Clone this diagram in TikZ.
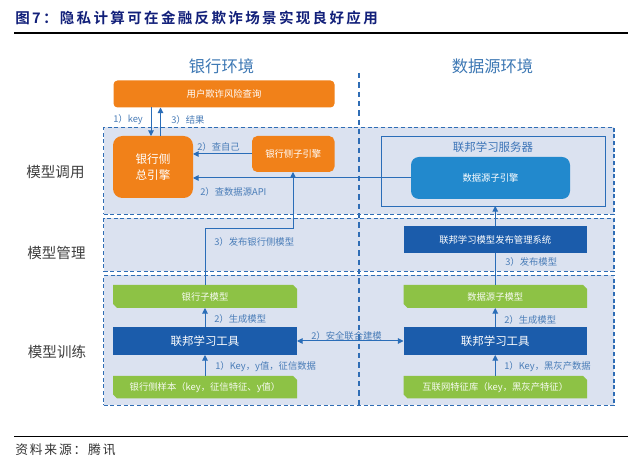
\documentclass[tikz,border=0pt]{standalone}
\usepackage{fontspec}
\setmainfont{Noto Sans CJK SC}
\newfontfamily\titlefont[LetterSpace=16]{Noto Sans CJK SC Bold}
\newfontfamily\srcfont[LetterSpace=14]{Noto Sans CJK SC}
\usetikzlibrary{arrows.meta,shapes.misc}
\definecolor{panelfill}{HTML}{DBE2F0}
\definecolor{dashblue}{HTML}{2F6DB5}
\definecolor{linkblue}{HTML}{2A6DB8}
\definecolor{labelblue}{HTML}{4A7DB8}
\definecolor{headblue}{HTML}{3D78B4}
\definecolor{orangebox}{HTML}{F18119}
\definecolor{greenbox}{HTML}{8DC245}
\definecolor{darkbox}{HTML}{1B5CAB}
\definecolor{skybox}{HTML}{2289CD}
\definecolor{titleblue}{HTML}{12207A}
% \pxbox[style]{name}{x1}{y1}{x2}{y2}{text}
\newcommand{\pxbox}[7][]{\node[outer sep=0pt,inner sep=0pt,align=center,
  minimum width={(#5-#3)*0.75pt},minimum height={(#6-#4)*0.75pt},#1] (#2)
  at ({(#3+#5)/2},{(#4+#6)/2}) {#7};}
\tikzset{
  panel/.style={draw=dashblue,fill=panelfill,line width=0.9pt,dash pattern=on 3pt off 2pt},
  orangeb/.style={fill=orangebox,text=white,rounded corners=3pt},
  greenb/.style={chamfered rectangle,chamfered rectangle corners={north east,south west},
    chamfered rectangle xsep=1.5pt,chamfered rectangle ysep=1.5pt,fill=greenbox,text=white!92!greenbox,font=\fontsize{7}{8}\selectfont},
  darkb/.style={fill=darkbox,text=white},
  arr/.style={draw=linkblue,line width=0.75pt,-{Triangle[width=4.2pt,length=4.2pt]}},
  lab/.style={anchor=west,inner sep=0pt,text=labelblue,font=\fontsize{7}{8}\selectfont},
  rowlab/.style={anchor=center,inner sep=0pt,text=black!75,font=\fontsize{10.9}{12}\selectfont},
  envlab/.style={anchor=center,inner sep=0pt,text=headblue,font=\fontsize{12.2}{14}\selectfont},
}
\begin{document}
\begin{tikzpicture}[x=0.75pt,y=-0.75pt]
\useasboundingbox (0,0) rectangle (640,459);
\fill[white] (0,0) rectangle (640,459);
% title and rules
\node[anchor=west,inner sep=0pt,text=titleblue,font=\titlefont\fontsize{10.9}{12}\selectfont] (title) at (15,18) {图7：隐私计算可在金融反欺诈场景实现良好应用};
\coordinate (ruleAL) at (14,33); \coordinate (ruleAR) at (628,33);
\coordinate (ruleBL) at (14,436.5); \coordinate (ruleBR) at (628,436.5);
\draw[black,line width=0.8pt] (ruleAL) -- (ruleAR);
\draw[black,line width=0.8pt] (ruleBL) -- (ruleBR);
\node[anchor=west,inner sep=0pt,text=black!80,font=\srcfont\fontsize{9.6}{11}\selectfont] (source) at (15,449.5) {资料来源：腾讯};
% bands
\pxbox[panel]{bandA}{103.5}{127.5}{614}{214.5}{}
\pxbox[panel]{bandB}{103.5}{218.5}{614}{271.5}{}
\pxbox[panel]{bandC}{103.5}{275.5}{614}{405.5}{}
% vertical divider
\coordinate (divT) at (359,73); \coordinate (divB) at (359,406);
\draw[dashblue,line width=0.9pt,dash pattern=on 4pt off 3pt] (divT) -- (divB);
% headings
\node[envlab] (envBank) at (221.5,66) {银行环境};
\node[envlab] (envData) at (492.5,66.5) {数据源环境};
\node[rowlab] (rowCall) at (55.5,172.5) {模型调用};
\node[rowlab] (rowMgmt) at (56.5,253) {模型管理};
\node[rowlab] (rowTrain) at (57,351.5) {模型训练};
% boxes
\pxbox[orangeb,font=\fontsize{7}{8}\selectfont]{query}{113.5}{80.5}{334.5}{107.5}{用户欺诈风险查询}
\pxbox[orangeb,rounded corners=7pt,font=\fontsize{8.7}{11.5}\selectfont]{engine}{113}{136}{193}{198}{银行侧\\总引擎}
\pxbox[orangeb,rounded corners=4pt,font=\fontsize{7}{8}\selectfont]{bankSub}{252}{136}{334.5}{172}{银行侧子引擎}
\pxbox[draw=linkblue,line width=0.6pt,fill=none]{server}{381}{136}{605}{206}{}
\node[inner sep=0pt,text=darkbox!85!white,font=\fontsize{8.6}{10}\selectfont] (serverLab) at (493,147.5) {联邦学习服务器};
\pxbox[fill=skybox,text=white,rounded corners=6pt,font=\fontsize{7}{8}\selectfont]{dataSub}{411}{157}{570}{199}{数据源子引擎}
\pxbox[darkb,font=\fontsize{7}{8}\selectfont]{publish}{403.5}{226}{587}{253.5}{联邦学习模型发布管理系统}
\pxbox[greenb]{bankModel}{113}{285}{297}{308}{银行子模型}
\pxbox[darkb,font=\fontsize{8.6}{10}\selectfont]{bankTool}{113}{327}{297}{355}{联邦学习工具}
\pxbox[greenb]{bankSample}{113}{376}{297}{398.5}{银行侧样本（key，征信特征、y值）}
\pxbox[greenb]{dataModel}{403.5}{285}{587}{308}{数据源子模型}
\pxbox[darkb,font=\fontsize{8.6}{10}\selectfont]{dataTool}{403.5}{327}{587}{355}{联邦学习工具}
\pxbox[greenb]{dataFeat}{403.5}{376}{587}{398.5}{互联网特征库（key，黑灰产特征）}
% routing helpers
\coordinate (kx) at (151,0);
\coordinate (rx) at (160.5,0);
\coordinate (selfy) at (0,154);
\coordinate (apiy) at (0,178);
\coordinate (pubx) at (293,0);
\coordinate (turn1) at (205,228.5);
\coordinate (turn2) at (293,228.5);
% connectors
\draw[arr] (query.south -| kx) -- (engine.north -| kx);
\draw[arr] (engine.north -| rx) -- (query.south -| rx);
\draw[arr] (bankSub.west |- selfy) -- (engine.east |- selfy);
\draw[arr] (dataSub.west |- apiy) -- (engine.east |- apiy);
\draw[arr] (bankModel.north) -- (turn1) -- (turn2) -- (bankSub.south -| pubx);
\draw[arr] (bankTool.north) -- (bankModel.south);
\draw[arr] (bankSample.north) -- (bankTool.south);
\draw[arr] (dataFeat.north) -- (dataTool.south);
\draw[arr] (dataTool.north) -- (dataModel.south);
\draw[linkblue,line width=0.75pt] (dataModel.north) -- (publish.south);
\draw[arr] (publish.north) -- (server.south -| publish.north);
\draw[arr,{Triangle[width=4.2pt,length=4.2pt]}-{Triangle[width=4.2pt,length=4.2pt]}] (bankTool.east) -- (dataTool.west);
% labels
\node[lab] (l1) at (113,119.5) {1）key};
\node[lab] (l2) at (171,119.5) {3）结果};
\node[lab] (l3) at (197,146.5) {2）查自己};
\node[lab] (l4) at (200,192) {2）查数据源API};
\node[lab] (l5) at (214,242) {3）发布银行侧模型};
\node[lab] (l6) at (214,319) {2）生成模型};
\node[lab] (l7) at (215,367) {1）Key，y值，征信数据};
\node[lab] (l8) at (311,336) {2）安全联合建模};
\node[lab] (l9) at (505,262) {3）发布模型};
\node[lab] (l10) at (504,319.5) {2）生成模型};
\node[lab] (l11) at (504,366.5) {1）Key，黑灰产数据};
\end{tikzpicture}
\end{document}
